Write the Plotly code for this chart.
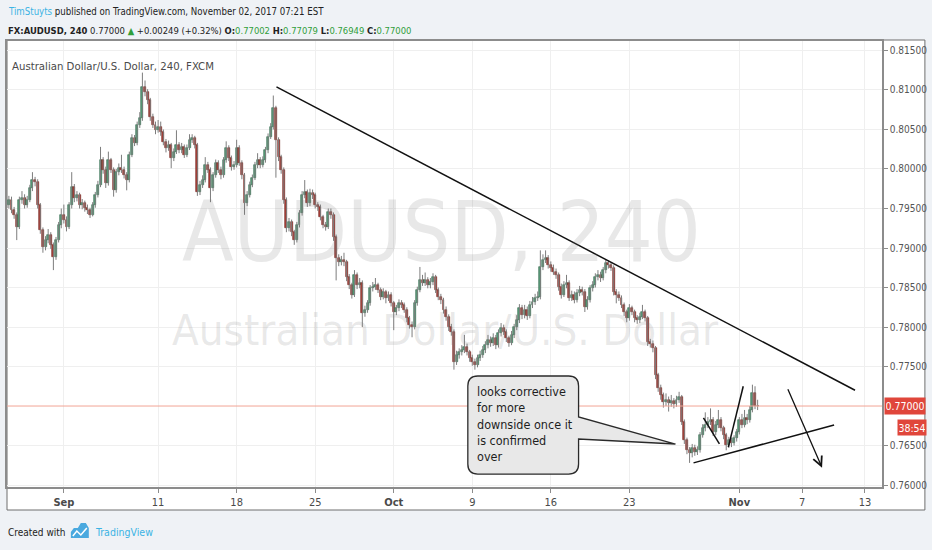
import plotly.graph_objects as go

# FX:AUDUSD 240 (4h) candles, end of Aug -> 2 Nov 2017
opens = [
    0.7954, 0.7961, 0.7948, 0.7942, 0.7927, 0.7961, 0.7963, 0.7954, 0.7961, 0.7976,
    0.7986, 0.7984, 0.7954, 0.7923, 0.7901, 0.7910, 0.7916, 0.7904, 0.7889, 0.7910,
    0.7929, 0.7942, 0.7935, 0.7927, 0.7954, 0.7977, 0.7963, 0.7967, 0.7954, 0.7957,
    0.7951, 0.7948, 0.7942, 0.7954, 0.7967, 0.7980, 0.8011, 0.7999, 0.7982, 0.8011,
    0.7999, 0.7973, 0.7996, 0.8001, 0.7999, 0.7992, 0.7986, 0.8018, 0.8039, 0.8033,
    0.8056, 0.8065, 0.8104, 0.8097, 0.8087, 0.8066, 0.8056, 0.8049, 0.8053, 0.8047,
    0.8034, 0.8027, 0.8030, 0.8014, 0.8022, 0.8030, 0.8024, 0.8028, 0.8018, 0.8027,
    0.8037, 0.8039, 0.8030, 0.7971, 0.7980, 0.7986, 0.8005, 0.7999, 0.7976, 0.7992,
    0.8008, 0.7999, 0.7992, 0.8011, 0.8027, 0.8014, 0.8003, 0.8005, 0.8027, 0.8008,
    0.7992, 0.7957, 0.7967, 0.7980, 0.7989, 0.8005, 0.8011, 0.8005, 0.8011, 0.8024,
    0.8041, 0.8053, 0.8077, 0.8037, 0.8015, 0.7999, 0.7961, 0.7925, 0.7933, 0.7920,
    0.7910, 0.7929, 0.7944, 0.7967, 0.7971, 0.7957, 0.7970, 0.7967, 0.7954, 0.7952,
    0.7939, 0.7929, 0.7927, 0.7946, 0.7942, 0.7914, 0.7887, 0.7882, 0.7885, 0.7882,
    0.7863, 0.7853, 0.7841, 0.7866, 0.7853, 0.7856, 0.7818, 0.7822, 0.7830, 0.7849,
    0.7851, 0.7853, 0.7847, 0.7838, 0.7844, 0.7837, 0.7841, 0.7830, 0.7819, 0.7824,
    0.7830, 0.7828, 0.7822, 0.7811, 0.7803, 0.7800, 0.7830, 0.7847, 0.7859, 0.7856,
    0.7859, 0.7853, 0.7857, 0.7863, 0.7847, 0.7838, 0.7834, 0.7822, 0.7813, 0.7800,
    0.7794, 0.7756, 0.7765, 0.7768, 0.7771, 0.7775, 0.7768, 0.7761, 0.7756, 0.7752,
    0.7761, 0.7765, 0.7771, 0.7777, 0.7784, 0.7780, 0.7786, 0.7777, 0.7792, 0.7799,
    0.7794, 0.7786, 0.7780, 0.7790, 0.7800, 0.7809, 0.7824, 0.7815, 0.7822, 0.7814,
    0.7828, 0.7832, 0.7837, 0.7838, 0.7876, 0.7885, 0.7887, 0.7878, 0.7875, 0.7870,
    0.7866, 0.7851, 0.7841, 0.7853, 0.7856, 0.7837, 0.7841, 0.7834, 0.7843, 0.7847,
    0.7844, 0.7825, 0.7834, 0.7849, 0.7853, 0.7863, 0.7866, 0.7862, 0.7872, 0.7881,
    0.7878, 0.7875, 0.7844, 0.7841, 0.7837, 0.7828, 0.7819, 0.7811, 0.7824, 0.7819,
    0.7811, 0.7809, 0.7813, 0.7819, 0.7811, 0.7781, 0.7779, 0.7773, 0.7739, 0.7723,
    0.7714, 0.7705, 0.7708, 0.7704, 0.7706, 0.7703, 0.7708, 0.7711, 0.7680, 0.7657,
    0.7644, 0.7641, 0.7647, 0.7642, 0.7644, 0.7663, 0.7672, 0.7676, 0.7680, 0.7682,
    0.7667, 0.7676, 0.7682, 0.7672, 0.7663, 0.7651, 0.7657, 0.7653, 0.7659, 0.7667,
    0.7682, 0.7676, 0.7685, 0.7682, 0.7695, 0.7716, 0.77002,
]
highs = [
    0.7966, 0.7965, 0.7952, 0.7945, 0.7965, 0.7972, 0.7968, 0.7966, 0.7980, 0.7996,
    0.7990, 0.7987, 0.7957, 0.7926, 0.7915, 0.7924, 0.7920, 0.7907, 0.7914, 0.7933,
    0.7950, 0.7955, 0.7940, 0.7958, 0.7996, 0.7981, 0.7972, 0.7970, 0.7962, 0.7960,
    0.7955, 0.7951, 0.7958, 0.7971, 0.7985, 0.8028, 0.8015, 0.8003, 0.8022, 0.8014,
    0.8002, 0.8000, 0.8007, 0.8018, 0.8003, 0.7996, 0.8022, 0.8044, 0.8043, 0.8060,
    0.8072, 0.8122, 0.8112, 0.8101, 0.8090, 0.8070, 0.8060, 0.8062, 0.8060, 0.8050,
    0.8038, 0.8036, 0.8033, 0.8026, 0.8049, 0.8034, 0.8033, 0.8031, 0.8031, 0.8044,
    0.8044, 0.8042, 0.8033, 0.7985, 0.7992, 0.8015, 0.8009, 0.8002, 0.7996, 0.8012,
    0.8011, 0.8003, 0.8015, 0.8035, 0.8030, 0.8017, 0.8010, 0.8037, 0.8030, 0.8011,
    0.7995, 0.7972, 0.7984, 0.7993, 0.8009, 0.8020, 0.8015, 0.8016, 0.8028, 0.8045,
    0.8058, 0.8093, 0.8080, 0.8040, 0.8018, 0.8002, 0.7964, 0.7938, 0.7936, 0.7923,
    0.7933, 0.7948, 0.7972, 0.7986, 0.7974, 0.7975, 0.7974, 0.7970, 0.7958, 0.7955,
    0.7942, 0.7933, 0.7950, 0.7950, 0.7945, 0.7917, 0.7892, 0.7890, 0.7894, 0.7885,
    0.7867, 0.7856, 0.7872, 0.7869, 0.7862, 0.7859, 0.7827, 0.7834, 0.7853, 0.7857,
    0.7862, 0.7856, 0.7850, 0.7849, 0.7847, 0.7845, 0.7844, 0.7833, 0.7828, 0.7835,
    0.7834, 0.7831, 0.7825, 0.7814, 0.7807, 0.7834, 0.7851, 0.7876, 0.7866, 0.7869,
    0.7863, 0.7862, 0.7868, 0.7866, 0.7850, 0.7842, 0.7837, 0.7826, 0.7816, 0.7804,
    0.7797, 0.7770, 0.7773, 0.7777, 0.7790, 0.7779, 0.7771, 0.7765, 0.7760, 0.7765,
    0.7770, 0.7776, 0.7782, 0.7790, 0.7788, 0.7792, 0.7790, 0.7797, 0.7805, 0.7803,
    0.7797, 0.7789, 0.7795, 0.7804, 0.7815, 0.7829, 0.7828, 0.7828, 0.7826, 0.7833,
    0.7838, 0.7842, 0.7845, 0.7897, 0.7892, 0.7897, 0.7891, 0.7883, 0.7879, 0.7874,
    0.7869, 0.7855, 0.7858, 0.7866, 0.7859, 0.7846, 0.7845, 0.7848, 0.7852, 0.7851,
    0.7848, 0.7839, 0.7853, 0.7858, 0.7868, 0.7872, 0.7870, 0.7876, 0.7886, 0.7884,
    0.7882, 0.7878, 0.7848, 0.7845, 0.7840, 0.7831, 0.7822, 0.7829, 0.7827, 0.7822,
    0.7815, 0.7818, 0.7828, 0.7822, 0.7814, 0.7785, 0.7783, 0.7776, 0.7742, 0.7727,
    0.7717, 0.7716, 0.7712, 0.7714, 0.7710, 0.7713, 0.7718, 0.7714, 0.7683, 0.7660,
    0.7648, 0.7652, 0.7651, 0.7649, 0.7667, 0.7677, 0.7692, 0.7686, 0.7697, 0.7686,
    0.7681, 0.7695, 0.7686, 0.7675, 0.7666, 0.7661, 0.7660, 0.7663, 0.7671, 0.7686,
    0.7690, 0.7695, 0.7690, 0.7700, 0.7727, 0.7725, 0.77079,
]
lows = [
    0.7950, 0.7944, 0.7937, 0.7910, 0.7924, 0.7956, 0.7950, 0.7951, 0.7958, 0.7972,
    0.7978, 0.7950, 0.7918, 0.7894, 0.7897, 0.7906, 0.7899, 0.7872, 0.7885, 0.7907,
    0.7925, 0.7931, 0.7921, 0.7924, 0.7950, 0.7958, 0.7959, 0.7950, 0.7949, 0.7946,
    0.7943, 0.7938, 0.7940, 0.7951, 0.7964, 0.7977, 0.7994, 0.7976, 0.7979, 0.7995,
    0.7965, 0.7970, 0.7992, 0.7995, 0.7988, 0.7973, 0.7983, 0.8015, 0.8029, 0.8030,
    0.8052, 0.8061, 0.8092, 0.8082, 0.8061, 0.8052, 0.8044, 0.8046, 0.8042, 0.8030,
    0.8021, 0.8023, 0.8001, 0.8010, 0.8019, 0.8020, 0.8020, 0.8014, 0.8015, 0.8024,
    0.8033, 0.8026, 0.7966, 0.7967, 0.7976, 0.7983, 0.7995, 0.7958, 0.7972, 0.7989,
    0.7995, 0.7987, 0.7989, 0.8008, 0.8010, 0.7998, 0.7999, 0.8002, 0.8004, 0.7987,
    0.7942, 0.7953, 0.7964, 0.7977, 0.7986, 0.8001, 0.8001, 0.8002, 0.8008, 0.8020,
    0.8038, 0.8050, 0.7989, 0.8010, 0.7994, 0.7956, 0.7920, 0.7921, 0.7915, 0.7904,
    0.7907, 0.7926, 0.7941, 0.7963, 0.7952, 0.7953, 0.7962, 0.7950, 0.7947, 0.7935,
    0.7925, 0.7922, 0.7924, 0.7937, 0.7909, 0.7859, 0.7877, 0.7878, 0.7877, 0.7858,
    0.7848, 0.7836, 0.7838, 0.7848, 0.7849, 0.7800, 0.7813, 0.7818, 0.7827, 0.7845,
    0.7847, 0.7843, 0.7834, 0.7835, 0.7830, 0.7833, 0.7826, 0.7796, 0.7815, 0.7820,
    0.7824, 0.7818, 0.7806, 0.7798, 0.7787, 0.7797, 0.7827, 0.7844, 0.7852, 0.7852,
    0.7849, 0.7849, 0.7853, 0.7843, 0.7834, 0.7829, 0.7817, 0.7808, 0.7795, 0.7789,
    0.7746, 0.7752, 0.7760, 0.7764, 0.7767, 0.7764, 0.7756, 0.7751, 0.7746, 0.7749,
    0.7757, 0.7761, 0.7767, 0.7773, 0.7775, 0.7776, 0.7772, 0.7774, 0.7788, 0.7790,
    0.7781, 0.7775, 0.7777, 0.7786, 0.7796, 0.7805, 0.7810, 0.7811, 0.7809, 0.7811,
    0.7824, 0.7828, 0.7833, 0.7835, 0.7872, 0.7881, 0.7874, 0.7870, 0.7866, 0.7861,
    0.7846, 0.7836, 0.7838, 0.7849, 0.7833, 0.7833, 0.7830, 0.7831, 0.7839, 0.7840,
    0.7819, 0.7822, 0.7831, 0.7845, 0.7850, 0.7859, 0.7857, 0.7859, 0.7868, 0.7874,
    0.7871, 0.7840, 0.7830, 0.7833, 0.7824, 0.7814, 0.7806, 0.7808, 0.7815, 0.7806,
    0.7804, 0.7805, 0.7810, 0.7807, 0.7776, 0.7774, 0.7768, 0.7734, 0.7718, 0.7708,
    0.7698, 0.7700, 0.7693, 0.7699, 0.7697, 0.7699, 0.7704, 0.7676, 0.7652, 0.7639,
    0.7628, 0.7635, 0.7637, 0.7638, 0.7641, 0.7660, 0.7668, 0.7672, 0.7676, 0.7662,
    0.7663, 0.7672, 0.7668, 0.7658, 0.7644, 0.7647, 0.7648, 0.7650, 0.7655, 0.7664,
    0.7672, 0.7673, 0.7677, 0.7679, 0.7692, 0.7696, 0.76949,
]
closes = [
    0.7961, 0.7948, 0.7942, 0.7927, 0.7961, 0.7963, 0.7954, 0.7961, 0.7976, 0.7986,
    0.7984, 0.7954, 0.7923, 0.7901, 0.7910, 0.7916, 0.7904, 0.7889, 0.7910, 0.7929,
    0.7942, 0.7935, 0.7927, 0.7954, 0.7977, 0.7963, 0.7967, 0.7954, 0.7957, 0.7951,
    0.7948, 0.7942, 0.7954, 0.7967, 0.7980, 0.8011, 0.7999, 0.7982, 0.8011, 0.7999,
    0.7973, 0.7996, 0.8001, 0.7999, 0.7992, 0.7986, 0.8018, 0.8039, 0.8033, 0.8056,
    0.8065, 0.8104, 0.8097, 0.8087, 0.8066, 0.8056, 0.8049, 0.8053, 0.8047, 0.8034,
    0.8027, 0.8030, 0.8014, 0.8022, 0.8030, 0.8024, 0.8028, 0.8018, 0.8027, 0.8037,
    0.8039, 0.8030, 0.7971, 0.7980, 0.7986, 0.8005, 0.7999, 0.7976, 0.7992, 0.8008,
    0.7999, 0.7992, 0.8011, 0.8027, 0.8014, 0.8003, 0.8005, 0.8027, 0.8008, 0.7992,
    0.7957, 0.7967, 0.7980, 0.7989, 0.8005, 0.8011, 0.8005, 0.8011, 0.8024, 0.8041,
    0.8053, 0.8077, 0.8037, 0.8015, 0.7999, 0.7961, 0.7925, 0.7933, 0.7920, 0.7910,
    0.7929, 0.7944, 0.7967, 0.7971, 0.7957, 0.7970, 0.7967, 0.7954, 0.7952, 0.7939,
    0.7929, 0.7927, 0.7946, 0.7942, 0.7914, 0.7887, 0.7882, 0.7885, 0.7882, 0.7863,
    0.7853, 0.7841, 0.7866, 0.7853, 0.7856, 0.7818, 0.7822, 0.7830, 0.7849, 0.7851,
    0.7853, 0.7847, 0.7838, 0.7844, 0.7837, 0.7841, 0.7830, 0.7819, 0.7824, 0.7830,
    0.7828, 0.7822, 0.7811, 0.7803, 0.7800, 0.7830, 0.7847, 0.7859, 0.7856, 0.7859,
    0.7853, 0.7857, 0.7863, 0.7847, 0.7838, 0.7834, 0.7822, 0.7813, 0.7800, 0.7794,
    0.7756, 0.7765, 0.7768, 0.7771, 0.7775, 0.7768, 0.7761, 0.7756, 0.7752, 0.7761,
    0.7765, 0.7771, 0.7777, 0.7784, 0.7780, 0.7786, 0.7777, 0.7792, 0.7799, 0.7794,
    0.7786, 0.7780, 0.7790, 0.7800, 0.7809, 0.7824, 0.7815, 0.7822, 0.7814, 0.7828,
    0.7832, 0.7837, 0.7838, 0.7876, 0.7885, 0.7887, 0.7878, 0.7875, 0.7870, 0.7866,
    0.7851, 0.7841, 0.7853, 0.7856, 0.7837, 0.7841, 0.7834, 0.7843, 0.7847, 0.7844,
    0.7825, 0.7834, 0.7849, 0.7853, 0.7863, 0.7866, 0.7862, 0.7872, 0.7881, 0.7878,
    0.7875, 0.7844, 0.7841, 0.7837, 0.7828, 0.7819, 0.7811, 0.7824, 0.7819, 0.7811,
    0.7809, 0.7813, 0.7819, 0.7811, 0.7781, 0.7779, 0.7773, 0.7739, 0.7723, 0.7714,
    0.7705, 0.7708, 0.7704, 0.7706, 0.7703, 0.7708, 0.7711, 0.7680, 0.7657, 0.7644,
    0.7641, 0.7647, 0.7642, 0.7644, 0.7663, 0.7672, 0.7676, 0.7680, 0.7682, 0.7667,
    0.7676, 0.7682, 0.7672, 0.7663, 0.7651, 0.7657, 0.7653, 0.7659, 0.7667, 0.7682,
    0.7676, 0.7685, 0.7682, 0.7695, 0.7716, 0.7700, 0.77000,
]

# time axis: bar index where each labelled day starts
tick_bars = [21, 57, 87, 117, 147, 177, 207, 237, 279, 303, 327]
tick_labels = ["<b>Sep</b>", "11", "18", "25", "<b>Oct</b>", "9", "16", "23", "<b>Nov</b>", "7", "13"]
# price scale labels (0.77000 sits under the last-price tag)
price_ticks = [0.760, 0.765, 0.775, 0.780, 0.785, 0.790, 0.795, 0.800, 0.805, 0.810, 0.815]

# drawings on the chart (bar index, price)
trend_top = [(102.2, 0.8104), (323.2, 0.7720)]
trend_low = [(261.5, 0.7628), (315.2, 0.7676)]
leg_down = [(265.3, 0.7685), (271.4, 0.7652)]
leg_up = [(274.8, 0.7648), (280.5, 0.7725)]
arrow = [(297.3, 0.7723), (310.6, 0.7622)]
note_text = "looks corrective<br>for more<br>downside once it<br>is confirmed<br>over"

FONT = "DejaVu Sans Condensed, Liberation Sans, sans-serif"
UP, DOWN = "#55a078", "#ad3a31"
UP_EDGE, DOWN_EDGE = "#2d6347", "#6a1d17"
BLUE = "#3bb3e4"
GREEN = "#2f9e3a"
PAPER = "#eff2f6"

W, H = 932, 550
L, R, T, B = 5, 882, 41, 487


def px(x):
    return (x - L) / (R - L)


def py(y):
    return (B - y) / (B - T)


idx = list(range(len(closes)))
body_base = [min(o, c) for o, c in zip(opens, closes)]
body_len = [max(abs(c - o), 0.00003) for o, c in zip(opens, closes)]
body_col = [UP if c >= o else DOWN for o, c in zip(opens, closes)]
edge_col = [UP_EDGE if c >= o else DOWN_EDGE for o, c in zip(opens, closes)]

wick_x, wick_y = [], []
for i, h, l in zip(idx, highs, lows):
    wick_x += [i, i, None]
    wick_y += [l, h, None]

fig = go.Figure()
fig.add_trace(go.Scatter(x=wick_x, y=wick_y, mode="lines",
                         line=dict(color="#7d7d7d", width=1), hoverinfo="skip"))
fig.add_trace(go.Bar(x=idx, y=body_len, base=body_base, width=0.75,
                     marker=dict(color=body_col, line=dict(color=edge_col, width=0.6)),
                     hoverinfo="skip"))

shapes = []
# white chart frame (price scale + time scale included)
shapes.append(dict(type="rect", xref="paper", yref="paper", layer="below",
                   x0=px(5), x1=px(925), y0=py(510), y1=py(40),
                   fillcolor="white", line=dict(color="#6e6e6e", width=1)))
# last price line
shapes.append(dict(type="line", xref="paper", yref="y", x0=0, x1=1,
                   y0=closes[-1], y1=closes[-1], line=dict(color="#f2a595", width=1)))
for seg in (trend_top, trend_low, leg_down, leg_up):
    shapes.append(dict(type="line", xref="x", yref="y",
                       x0=seg[0][0], y0=seg[0][1], x1=seg[1][0], y1=seg[1][1],
                       line=dict(color="#111111", width=1.5)))

# callout box with pointer
bx0, bx1, by0, by1 = 175.3, 217.6, 0.76139, 0.77380
rx, ry = 3.8, 0.00127
tip = (254.6, 0.76519)
p_top, p_bot = 0.76861, 0.76582
path = (f"M{bx0 + rx},{by1} L{bx1 - rx},{by1} Q{bx1},{by1} {bx1},{by1 - ry} "
        f"L{bx1},{p_top} L{tip[0]},{tip[1]} L{bx1},{p_bot} "
        f"L{bx1},{by0 + ry} Q{bx1},{by0} {bx1 - rx},{by0} "
        f"L{bx0 + rx},{by0} Q{bx0},{by0} {bx0},{by0 + ry} "
        f"L{bx0},{by1 - ry} Q{bx0},{by1} {bx0 + rx},{by1} Z")
shapes.append(dict(type="path", xref="x", yref="y", path=path,
                   fillcolor="#e8e8e8", line=dict(color="#2a2a2a", width=1.3)))

# TradingView logo in the footer
logo = [(69, 538), (69, 532), (72, 528), (76, 528), (79, 523), (84, 523), (87, 528), (87, 538)]
logo_path = "M" + " L".join(f"{px(x)},{py(y)}" for x, y in logo) + " Z"
shapes.append(dict(type="path", xref="paper", yref="paper", path=logo_path,
                   fillcolor="#4aa9df", line=dict(width=0)))
zig = [(71, 536), (75, 531), (79, 535), (85, 528)]
shapes.append(dict(type="path", xref="paper", yref="paper",
                   path="M" + " L".join(f"{px(x)},{py(y)}" for x, y in zig),
                   line=dict(color="white", width=1.5)))

last_o, last_h, last_l, last_c = opens[-1], highs[-1], lows[-1], closes[-1]
header2 = (f"<b>FX:AUDUSD, 240</b> {last_c:.5f} <span style='color:{GREEN}'>▲</span> "
           f"+0.00249 (+0.32%) <b>O:</b><span style='color:{GREEN}'>{last_o:.5f}</span> "
           f"<b>H:</b><span style='color:{GREEN}'>{last_h:.5f}</span> "
           f"<b>L:</b><span style='color:{GREEN}'>{last_l:.5f}</span> "
           f"<b>C:</b><span style='color:{GREEN}'>{last_c:.5f}</span>")

annotations = [
    dict(x=px(4), y=py(12), xref="paper", yref="paper", xanchor="left", yanchor="middle",
         showarrow=False, font=dict(family=FONT, size=9.6, color="#222"),
         text=f"<span style='color:{BLUE}'>TimStuyts</span> published on TradingView.com, "
              "November 02, 2017 07:21 EST"),
    dict(x=px(4), y=py(31), xref="paper", yref="paper", xanchor="left", yanchor="middle",
         showarrow=False, font=dict(family=FONT, size=9.4, color="#222"), text=header2),
    dict(x=px(8), y=py(66), xref="paper", yref="paper", xanchor="left", yanchor="middle",
         showarrow=False, font=dict(family=FONT, size=11.3, color="#4a4a4a"),
         text="Australian Dollar/U.S. Dollar, 240, FXCM"),
    dict(x=px(440), y=py(232), xref="paper", yref="paper", xanchor="center", yanchor="middle",
         showarrow=False, font=dict(family=FONT, size=84, color="rgba(120,120,120,0.17)"),
         text="AUDUSD, 240"),
    dict(x=px(445), y=py(330), xref="paper", yref="paper", xanchor="center", yanchor="middle",
         showarrow=False, font=dict(family=FONT, size=43.5, color="rgba(120,120,120,0.17)"),
         text="Australian Dollar/U.S. Dollar"),
    dict(x=178.0, y=0.7730, xref="x", yref="y", xanchor="left", yanchor="top",
         showarrow=False, align="left", font=dict(family=FONT, size=12.5, color="#1e1e1e"),
         text=note_text),
    dict(x=arrow[1][0], y=arrow[1][1], ax=arrow[0][0], ay=arrow[0][1],
         xref="x", yref="y", axref="x", ayref="y", text="", showarrow=True,
         arrowhead=5, arrowsize=1.4, arrowwidth=1.3, arrowcolor="#111111"),
    dict(x=px(884), y=last_c, xref="paper", yref="y", xanchor="left", yanchor="middle",
         showarrow=False, bgcolor="#e0463b", width=38, height=14, borderpad=1,
         font=dict(family=FONT, size=10.5, color="white"), text=f"{last_c:.5f}"),
    dict(x=px(897), y=0.76728, xref="paper", yref="y", xanchor="left", yanchor="middle",
         showarrow=False, bgcolor="#e0463b", width=26, height=13, borderpad=1,
         font=dict(family=FONT, size=10.5, color="white"), text="38:54"),
    dict(x=px(4), y=py(532), xref="paper", yref="paper", xanchor="left", yanchor="middle",
         showarrow=False, font=dict(family=FONT, size=10, color="#222"), text="Created with"),
    dict(x=px(91), y=py(532), xref="paper", yref="paper", xanchor="left", yanchor="middle",
         showarrow=False, font=dict(family=FONT, size=10.5, color=BLUE), text="TradingView"),
]

fig.update_layout(
    width=W, height=H,
    margin=dict(l=L, r=W - R, t=T, b=H - B, pad=0),
    paper_bgcolor=PAPER, plot_bgcolor="white",
    showlegend=False, bargap=0,
    shapes=shapes, annotations=annotations,
    font=dict(family=FONT),
)
fig.update_xaxes(range=[-0.72, 333.5], tickvals=tick_bars, ticktext=tick_labels,
                 showgrid=True, gridcolor="#efefef", zeroline=False,
                 ticks="outside", ticklen=4, tickcolor="#8c8c8c",
                 tickfont=dict(family=FONT, size=11, color="#4a4a4a"),
                 showline=True, linecolor="#8c8c8c", linewidth=1.5, mirror=True)
fig.update_yaxes(range=[0.75975, 0.8162], side="right", tickvals=price_ticks,
                 tickformat=".5f", showgrid=True, gridcolor="#efefef", zeroline=False,
                 ticks="outside", ticklen=4, tickcolor="#8c8c8c",
                 tickfont=dict(family=FONT, size=10, color="#555555"),
                 showline=True, linecolor="#8c8c8c", linewidth=1.5, mirror=True)

# the page body has a default 8px margin; drop it so the figure sits at the window corner
fig.write_html("out.html", config={"displayModeBar": False},
               post_script=f"document.body.style.margin='0';"
                           f"document.body.style.background='{PAPER}';")
